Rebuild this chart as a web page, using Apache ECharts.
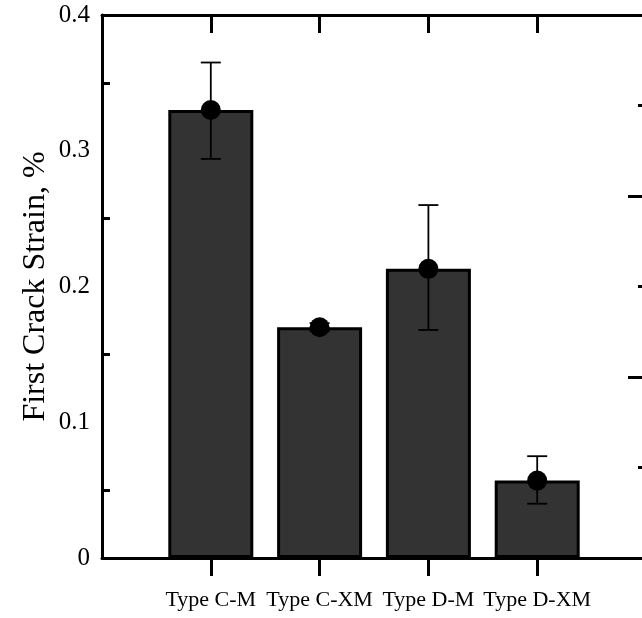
<!DOCTYPE html>
<html>
<head>
<meta charset="utf-8">
<title>First Crack Strain</title>
<script src="https://cdn.jsdelivr.net/npm/echarts@6/dist/echarts.min.js"></script>
<style>
  html, body { margin: 0; padding: 0; background: #fff; overflow: hidden; }
  #chart { width: 642px; height: 618px; }
</style>
</head>
<body>
<div id="chart"></div>
<script>
// Specimen types and measured first-crack strain (%)
var categories = ['Type C-M', 'Type C-XM', 'Type D-M', 'Type D-XM'];
var meanStrain = [0.33, 0.17, 0.213, 0.057];
var upperStrain = [0.365, 0.173, 0.26, 0.075];
var lowerStrain = [0.294, 0.167, 0.168, 0.04];
var yTicks = [0, 0.1, 0.2, 0.3, 0.4];

// The category axis has an empty slot at each end so the bars sit at 1..4 of 5 intervals
var axisCats = [''].concat(categories, ['']);
function pad(arr) { return [null].concat(arr, [null]); }

var serif = '"Liberation Serif", "Times New Roman", Times, serif';
var black = '#000';

var chart = echarts.init(document.getElementById('chart'), null, { renderer: 'canvas' });

var errorData = categories.map(function (c, i) {
  return [i + 1, lowerStrain[i], upperStrain[i]];
});

function innerTicks(idx) { return idx > 0 && idx < axisCats.length - 1; }

chart.setOption({
  animation: false,
  backgroundColor: '#fff',
  grid: { left: 102, top: 15, width: 544, height: 543, outerBoundsMode: 'none', containLabel: false },
  xAxis: [
    {
      type: 'category',
      data: axisCats,
      position: 'bottom',
      boundaryGap: false,
      axisLine: { onZero: false, lineStyle: { color: black, width: 3 } },
      axisTick: {
        inside: false, length: 18,
        lineStyle: { color: black, width: 3 },
        interval: innerTicks
      },
      axisLabel: {
        interval: 0, margin: 31, color: black,
        fontFamily: serif, fontSize: 22
      },
      splitLine: { show: false }
    },
    {
      type: 'category',
      data: axisCats,
      position: 'top',
      boundaryGap: false,
      axisLine: { onZero: false, lineStyle: { color: black, width: 3 } },
      axisTick: {
        inside: true, length: 18,
        lineStyle: { color: black, width: 3 },
        interval: innerTicks
      },
      axisLabel: { show: false },
      splitLine: { show: false }
    }
  ],
  yAxis: [
    {
      type: 'value',
      min: yTicks[0], max: yTicks[yTicks.length - 1], interval: 0.1,
      name: 'First Crack Strain, %',
      nameLocation: 'middle',
      nameGap: 50,
      nameMoveOverlap: false,
      nameTextStyle: { fontFamily: serif, fontSize: 32, color: black },
      axisLine: { show: true, onZero: false, lineStyle: { color: black, width: 3 } },
      axisTick: { inside: true, length: 18, lineStyle: { color: black, width: 3 } },
      minorTick: { show: true, splitNumber: 2, length: 8, lineStyle: { color: black, width: 3 } },
      axisLabel: {
        margin: 12, color: black, fontFamily: serif, fontSize: 25,
        formatter: function (v) { return v === 0 ? '0' : String(Math.round(v * 10) / 10); }
      },
      splitLine: { show: false }
    },
    {
      type: 'value',
      position: 'right',
      min: 0, max: 3, interval: 1,
      axisLine: { show: true, onZero: false, lineStyle: { color: black, width: 3 } },
      axisTick: { show: true, inside: true, length: 18, lineStyle: { color: black, width: 3 } },
      minorTick: { show: true, splitNumber: 2, length: 8, lineStyle: { color: black, width: 3 } },
      axisLabel: { show: false },
      splitLine: { show: false }
    }
  ],
  series: [
    {
      type: 'bar',
      xAxisIndex: 0, yAxisIndex: 0,
      data: pad(meanStrain),
      barWidth: 85,
      itemStyle: { color: '#333333', borderColor: black, borderWidth: 3 },
      z: 2
    },
    {
      type: 'custom',
      xAxisIndex: 1, yAxisIndex: 0,
      data: errorData,
      encode: { x: 0, y: [1, 2] },
      renderItem: function (params, api) {
        var x = api.value(0);
        var lo = api.coord([x, api.value(1)]);
        var hi = api.coord([x, api.value(2)]);
        var cap = 10;
        var style = { stroke: black, lineWidth: 1.8 };
        return {
          type: 'group',
          children: [
            { type: 'line', shape: { x1: lo[0], y1: lo[1], x2: hi[0], y2: hi[1] }, style: style },
            { type: 'line', shape: { x1: hi[0] - cap, y1: hi[1], x2: hi[0] + cap, y2: hi[1] }, style: style },
            { type: 'line', shape: { x1: lo[0] - cap, y1: lo[1], x2: lo[0] + cap, y2: lo[1] }, style: style }
          ]
        };
      },
      z: 3
    },
    {
      type: 'scatter',
      xAxisIndex: 0, yAxisIndex: 0,
      data: pad(meanStrain),
      symbol: 'circle',
      symbolSize: 20,
      itemStyle: { color: black, opacity: 1 },
      z: 4
    }
  ]
});
</script>
</body>
</html>
